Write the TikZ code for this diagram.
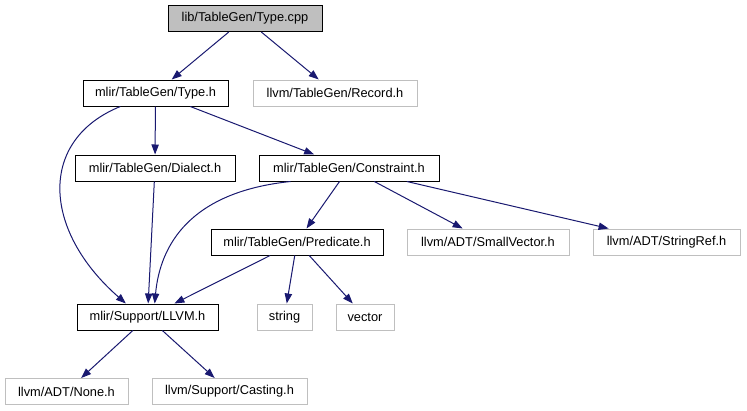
\documentclass[tikz,border=0pt]{standalone}
\usepackage{fontspec}
\setmainfont{Liberation Sans}
\usetikzlibrary{arrows.meta}
\definecolor{enlace}{HTML}{191970}
\definecolor{grisbox}{HTML}{BFBFBF}
\tikzset{
  header/.style={draw=black, fill=white, line width=0.75pt, minimum height=19.5pt, inner sep=0pt, font=\fontsize{9.6}{11}\selectfont},
  root/.style={header, fill=grisbox},
  external/.style={header, draw=grisbox},
  incl/.style={draw=enlace, line width=0.75pt, -{Triangle[length=7.5pt,width=5.5pt]}},
}

\begin{document}
\begin{tikzpicture}[x=0.75pt, y=-0.75pt]
          \useasboundingbox (0,0) rectangle (747,411);
          \node[root, minimum width=115.5pt] (cpp) at (245,18.5) {lib/TableGen/Type.cpp};
          \node[header, minimum width=108.75pt] (typeh) at (155.5,93) {mlir/TableGen/Type.h};
          \node[external, minimum width=123pt] (record) at (335,93) {llvm/TableGen/Record.h};
          \node[header, minimum width=120pt] (dialect) at (155,168) {mlir/TableGen/Dialect.h};
          \node[header, minimum width=135pt] (constraint) at (349,168) {mlir/TableGen/Constraint.h};
          \node[header, minimum width=129pt] (predicate) at (297,242) {mlir/TableGen/Predicate.h};
          \node[external, minimum width=121.5pt] (smallvec) at (488,242) {llvm/ADT/SmallVector.h};
          \node[external, minimum width=110.25pt] (stringref) at (666.5,242) {llvm/ADT/StringRef.h};
          \node[header, minimum width=105.75pt] (llvmh) at (147.5,317) {mlir/Support/LLVM.h};
          \node[external, minimum width=41.25pt] (string) at (284.5,317) {string};
          \node[external, minimum width=43.5pt] (vector) at (365,317) {vector};
          \node[external, minimum width=92.25pt] (none) at (66.5,391.5) {llvm/ADT/None.h};
          \node[external, minimum width=116.25pt] (casting) at (229.5,391.5) {llvm/Support/Casting.h};
          \foreach \a/\b in {cpp/typeh, cpp/record, typeh/dialect, typeh/constraint, dialect/llvmh,
                             constraint/predicate, constraint/smallvec, constraint/stringref,
                             predicate/llvmh, predicate/string, predicate/vector, llvmh/none, llvmh/casting}
            \draw[incl] (\a) -- (\b);
          \draw[incl] (typeh.201) .. controls (38,140) and (42,230) .. (llvmh.148);
          \draw[incl] (constraint.193) .. controls (190,192) and (160,245) .. (llvmh.62);
        \end{tikzpicture}
\end{document}
